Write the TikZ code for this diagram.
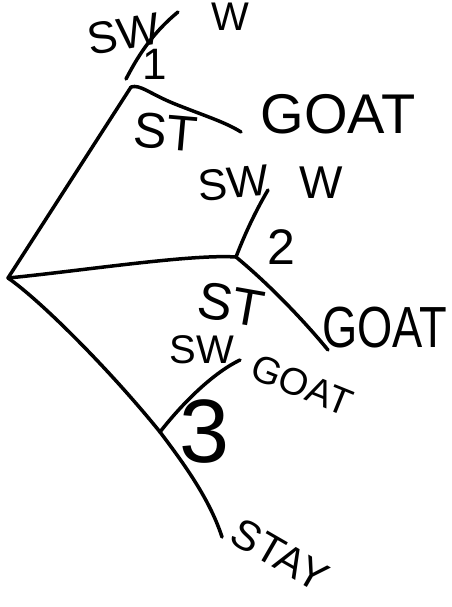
\documentclass[tikz,border=0pt]{standalone}
\usepackage{fontspec}
\setmainfont{Liberation Sans}
\begin{document}
\begin{tikzpicture}[x=1pt,y=-1pt,
  edge/.style={line width=3.5pt,line cap=round,line join=round},
  lbl/.style={inner sep=0pt,font=\fontsize{#1pt}{#1pt}\selectfont}]
\useasboundingbox (0,0) rectangle (451,607);
% tree points
\coordinate (n0) at (8,278);
\coordinate (n1) at (131,87);
\coordinate (n1u) at (126,79);
\coordinate (n2) at (236,257);
\coordinate (n3) at (160,432);
\coordinate (l1a) at (178,12);
\coordinate (l1b) at (241,132);
\coordinate (l2a) at (268,190);
\coordinate (l2b) at (328,350);
\coordinate (l3a) at (240,360);
\coordinate (l3b) at (222,537);
% connectors
\draw[edge] (n0) -- (n1);
\draw[edge] (n1u) .. controls (136,60) and (150,35) .. (l1a);
\draw[edge] (n1) .. controls (140,84) and (150,94) .. (175,104) .. controls (205,116) and (225,122) .. (l1b);
\draw[edge] (n0) .. controls (80,271) and (190,254) .. (n2);
\draw[edge] (n2) .. controls (244,236) and (255,212) .. (l2a);
\draw[edge] (n2) .. controls (270,285) and (305,322) .. (l2b);
\draw[edge] (n0) .. controls (40,300) and (110,370) .. (n3);
\draw[edge] (n3) .. controls (185,400) and (215,372) .. (l3a);
\draw[edge] (n3) .. controls (185,465) and (210,500) .. (l3b);
% labels
\node[lbl=45,rotate=10] (t1) at (124,34) {SW};
\node[lbl=40] (t2) at (230,17) {W};
\node[lbl=44] (t3) at (155,64) {1};
\node[lbl=50,rotate=-5] (t4) at (166,132) {ST};
\node[lbl=56] (t5) at (338,114) {GOAT};
\node[lbl=44,rotate=5] (t6) at (233,183) {SW};
\node[lbl=46] (t7) at (321,183) {W};
\node[lbl=50] (t8) at (281,247) {2};
\node[lbl=52,rotate=-10] (t9) at (231,305) {ST};
\node[lbl=58,xscale=0.78] (t10) at (385,328) {GOAT};
\node[lbl=40] (t11) at (202,350) {SW};
\node[lbl=38,rotate=-22] (t12) at (302,385) {GOAT};
\node[lbl=90] (t13) at (205,432) {3};
\node[lbl=42,rotate=-30] (t14) at (280,555) {STAY};
\end{tikzpicture}
\end{document}
